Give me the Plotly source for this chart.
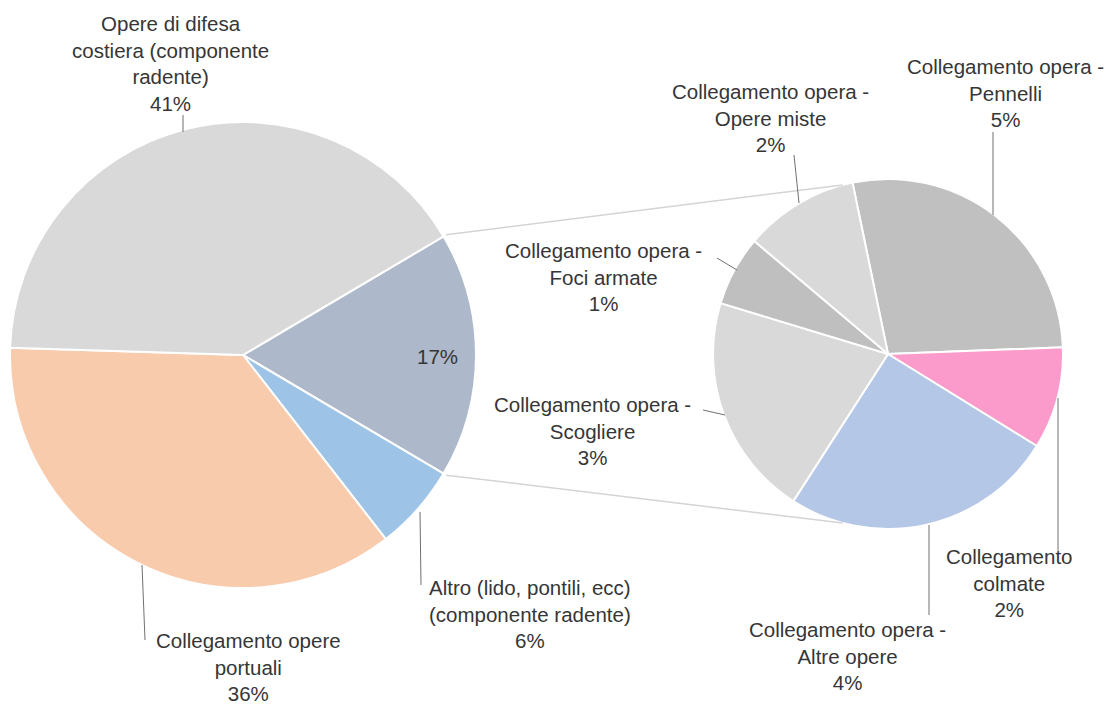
import math
import plotly.graph_objects as go

# page body has an 8px margin; figure is placed at (8, 8) in the window
OFF = 8
W, H = 1112 - OFF, 704 - OFF

# ---- data ----
main_labels = [
    "Altri collegamenti",
    "Altro (lido, pontili, ecc) (componente radente)",
    "Collegamento opere portuali",
    "Opere di difesa costiera (componente radente)",
]
main_values = [17, 6, 36, 41]
main_colors = ["#adb9ca", "#9dc3e6", "#f8cbad", "#d9d9d9"]

sub_labels = [
    "Collegamento opera - Pennelli",
    "Collegamento colmate",
    "Collegamento opera - Altre opere",
    "Collegamento opera - Scogliere",
    "Collegamento opera - Foci armate",
    "Collegamento opera - Opere miste",
]
sub_values = [4.7, 1.6, 4.3, 3.5, 1.1, 1.8]
sub_pct = ["5%", "2%", "4%", "3%", "1%", "2%"]
sub_colors = ["#c0c0c0", "#fb9bcb", "#b4c7e7", "#d9d9d9", "#bfbfbf", "#d9d9d9"]

# ---- layout geometry (window pixels) ----
L_CX, L_CY, L_R = 243, 355, 233
R_CX, R_CY, R_R = 888, 354, 175
L_ROT = 59.4      # start of first slice, degrees clockwise from 12 o'clock
R_ROT = -11.7


def px(x):
    return (x - OFF) / W


def py(y):
    return 1 - (y - OFF) / H


def dom(cx, cy, r):
    return dict(x=[px(cx - r), px(cx + r)], y=[py(cy + r), py(cy - r)])


fig = go.Figure()
fig.add_trace(go.Pie(
    labels=main_labels, values=main_values, sort=False, direction="clockwise",
    rotation=L_ROT, domain=dom(L_CX, L_CY, L_R), textinfo="none",
    marker=dict(colors=main_colors, line=dict(color="white", width=2)),
    showlegend=False, hoverinfo="label+percent",
))
fig.add_trace(go.Pie(
    labels=sub_labels, values=sub_values, sort=False, direction="clockwise",
    rotation=R_ROT, domain=dom(R_CX, R_CY, R_R), textinfo="none",
    marker=dict(colors=sub_colors, line=dict(color="white", width=2)),
    showlegend=False, hoverinfo="label",
))

# connector lines between the "other" slice and the secondary pie
tot = sum(main_values)
a_start = 90 - L_ROT                       # math angle of first slice start
a_end = a_start - main_values[0] / tot * 360
shapes = []
for a_l, a_r in [(a_start, 105), (a_end, -105)]:
    x0 = L_CX + (L_R + 3) * math.cos(math.radians(a_l))
    y0 = L_CY - (L_R + 3) * math.sin(math.radians(a_l))
    x1 = R_CX + R_R * math.cos(math.radians(a_r))
    y1 = R_CY - R_R * math.sin(math.radians(a_r))
    shapes.append(dict(type="line", xref="paper", yref="paper",
                       x0=px(x0), y0=py(y0), x1=px(x1), y1=py(y1),
                       line=dict(color="#d4d4d4", width=1.5)))

# label blocks: (text, center x, center y) and leader lines
labels_pos = [
    ("Opere di difesa<br>costiera (componente<br>radente)<br>41%", 170, 63),
    ("Collegamento opere<br>portuali<br>36%", 248, 667),
    ("Altro (lido, pontili, ecc)<br>(componente radente)<br>6%", 530, 614),
    ("17%", 437, 357),
    ("Collegamento opera -<br>Opere miste<br>" + sub_pct[5], 770, 118),
    ("Collegamento opera -<br>Pennelli<br>" + sub_pct[0], 1005, 93),
    ("Collegamento opera -<br>Foci armate<br>" + sub_pct[4], 603, 277),
    ("Collegamento opera -<br>Scogliere<br>" + sub_pct[3], 592, 431),
    ("Collegamento<br>colmate<br>" + sub_pct[1], 1009, 583),
    ("Collegamento opera -<br>Altre opere<br>" + sub_pct[2], 847, 656),
]
leaders = [
    (183, 115, 183, 132),
    (142, 565, 145, 640),
    (420, 512, 421, 585),
    (794, 155, 799, 203),
    (993, 132, 993, 215),
    (717, 258, 737, 270),
    (703, 410, 725, 415),
    (1058, 398, 1058, 550),
    (929, 525, 929, 615),
]
for x0, y0, x1, y1 in leaders:
    shapes.append(dict(type="line", xref="paper", yref="paper",
                       x0=px(x0), y0=py(y0), x1=px(x1), y1=py(y1),
                       line=dict(color="#707070", width=1)))

annotations = [
    dict(text=t, x=px(x), y=py(y), xref="paper", yref="paper",
         xanchor="center", yanchor="middle", showarrow=False, align="center",
         font=dict(family="Liberation Sans, Arial, sans-serif", size=20.5, color="#363636"))
    for t, x, y in labels_pos
]

fig.update_layout(
    width=W, height=H,
    margin=dict(l=0, r=0, t=0, b=0),
    paper_bgcolor="white", plot_bgcolor="white",
    shapes=shapes, annotations=annotations,
    showlegend=False,
)

fig.write_html("out.html")
